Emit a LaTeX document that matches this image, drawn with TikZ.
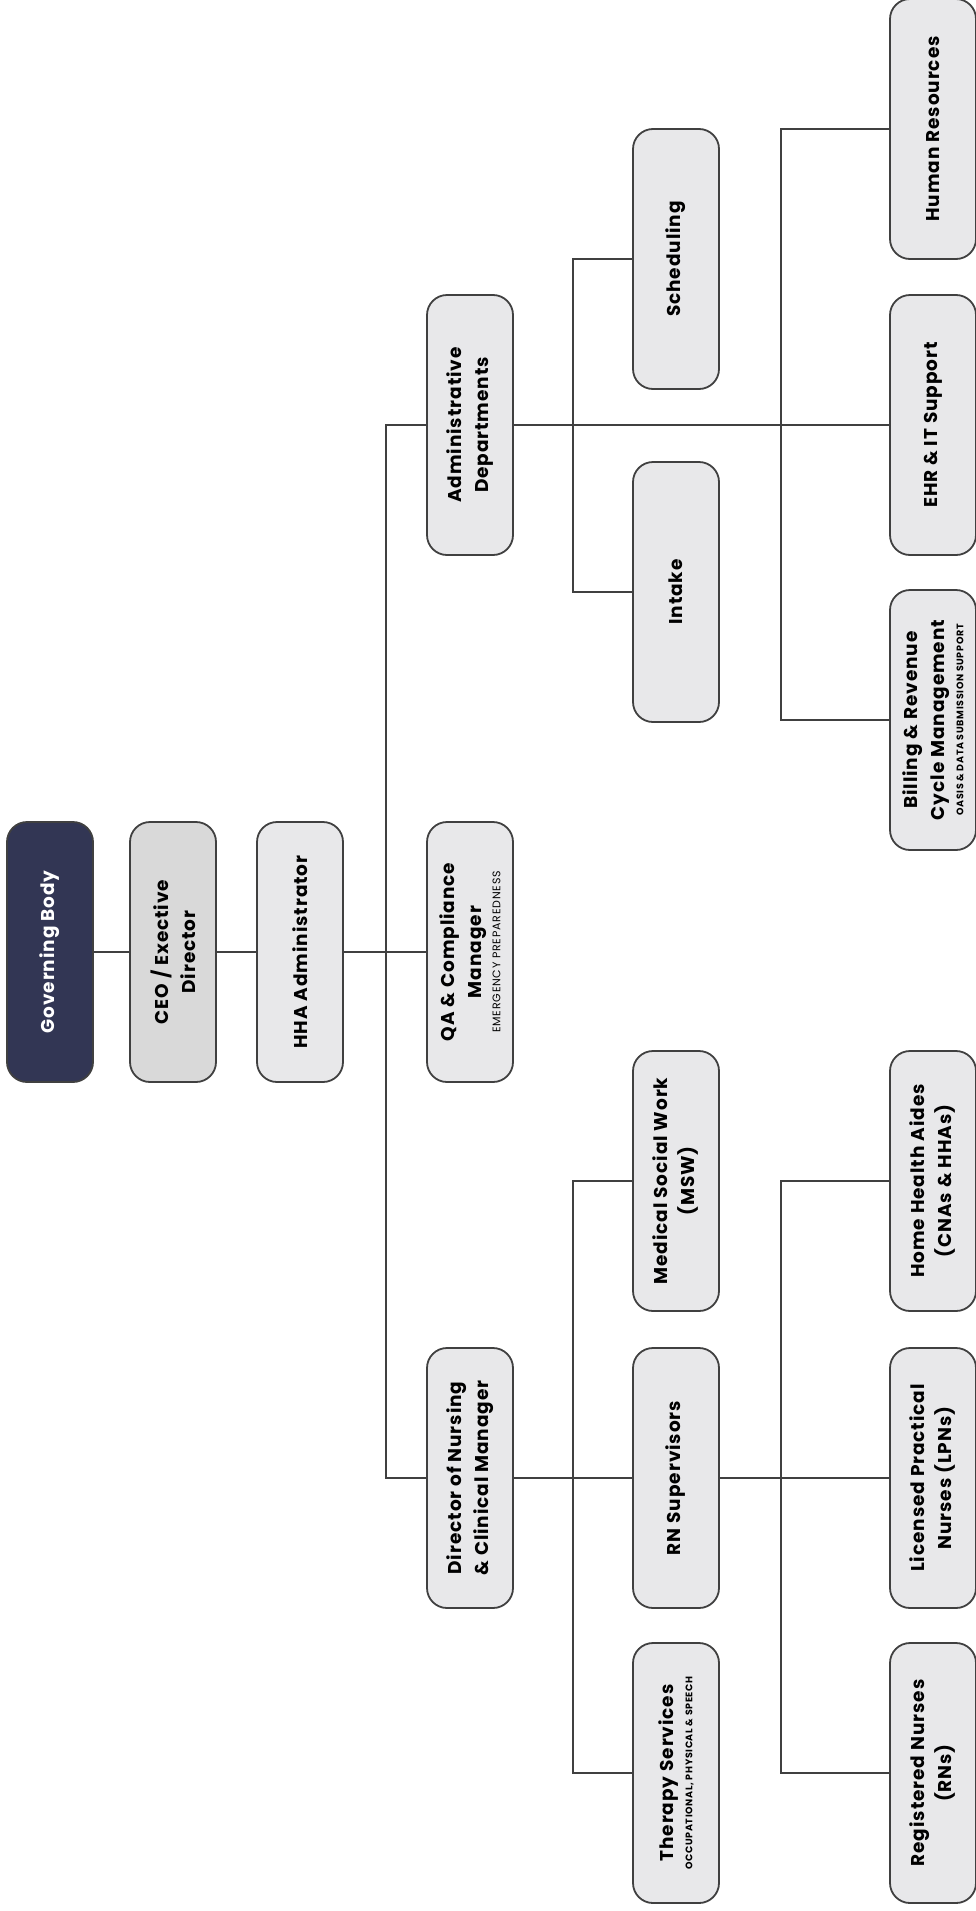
\documentclass[tikz,border=0pt]{standalone}
\usepackage{fontspec}
\setmainfont{Poppins}
\newfontfamily\boxfont{Poppins}[LetterSpace=5]
\newfontfamily\smallfont{Poppins}[LetterSpace=7]
\definecolor{navy}{HTML}{323654}
\definecolor{ceogrey}{HTML}{D9D9D9}
\definecolor{boxgrey}{HTML}{E8E8EA}
\definecolor{linegrey}{HTML}{404040}
\tikzset{
  box/.style={draw=linegrey, line width=1.8pt, fill=boxgrey, rounded corners=20pt,
    rotate=90, minimum width=260pt, minimum height=86pt, align=center, inner sep=2pt,
    font=\boxfont\bfseries\fontsize{18.5}{27}\selectfont},
  topbox/.style={box, fill=navy, text=white},
  ceobox/.style={box, fill=ceogrey},
  conn/.style={draw=linegrey, line width=1.8pt}
}
\newcommand{\subline}[1]{\\[-8pt]{\smallfont\mdseries\fontsize{11}{12}\selectfont #1}}
\newcommand{\subbold}[1]{\\[-8pt]{\smallfont\bfseries\fontsize{9.5}{11}\selectfont #1}}
\begin{document}
\begin{tikzpicture}[x=1pt,y=-1pt]
	\useasboundingbox (0,0) rectangle (976,1911);
	% top of the chart
	\node[topbox] (gb) at (50,952) {Governing Body};
	\node[ceobox] (ceo) at (173,952) {CEO / Exective\\Director};
	\node[box] (hha) at (300,952) {HHA Administrator};
	\node[box] (qa) at (470,952) {QA \& Compliance\\Manager\subline{EMERGENCY PREPAREDNESS}};
	\node[box] (adm) at (470,425) {Administrative\\Departments};
	\node[box] (dir) at (470,1478) {Director of Nursing\\\& Clinical Manager};
	% administration
	\node[box] (sch) at (676,259) {Scheduling};
	\node[box] (int) at (676,592) {Intake};
	\node[box] (hr) at (933,129) {Human Resources};
	\node[box] (ehr) at (933,425) {EHR \& IT Support};
	\node[box] (bil) at (933,720) {Billing \& Revenue\\Cycle Management\subbold{OASIS \& DATA SUBMISSION SUPPORT}};
	% nursing
	\node[box] (msw) at (676,1181) {Medical Social Work\\(MSW)};
	\node[box] (rns) at (676,1478) {RN Supervisors};
	\node[box] (thr) at (676,1773) {Therapy Services\subbold{OCCUPATIONAL, PHYSICAL \& SPEECH}};
	\node[box] (aid) at (933,1181) {Home Health Aides\\(CNAs \& HHAs)};
	\node[box] (lpn) at (933,1478) {Licensed Practical\\Nurses (LPNs)};
	\node[box] (rn) at (933,1773) {Registered Nurses\\(RNs)};
	\coordinate (t1) at (386,952);
	\coordinate (a1) at (573,425);
	\coordinate (a2) at (781,425);
	\coordinate (d1) at (573,1478);
	\coordinate (d2) at (781,1478);
	\draw[conn] (gb) -- (ceo) -- (hha) -- (qa);
	\draw[conn] (adm) -| (t1) |- (dir);
	\draw[conn] (adm) -- (ehr);
	\draw[conn] (sch) -| (a1) |- (int);
	\draw[conn] (hr) -| (a2) |- (bil);
	\draw[conn] (dir) -- (rns) -- (lpn);
	\draw[conn] (msw) -| (d1) |- (thr);
	\draw[conn] (aid) -| (d2) |- (rn);
\end{tikzpicture}
\end{document}
